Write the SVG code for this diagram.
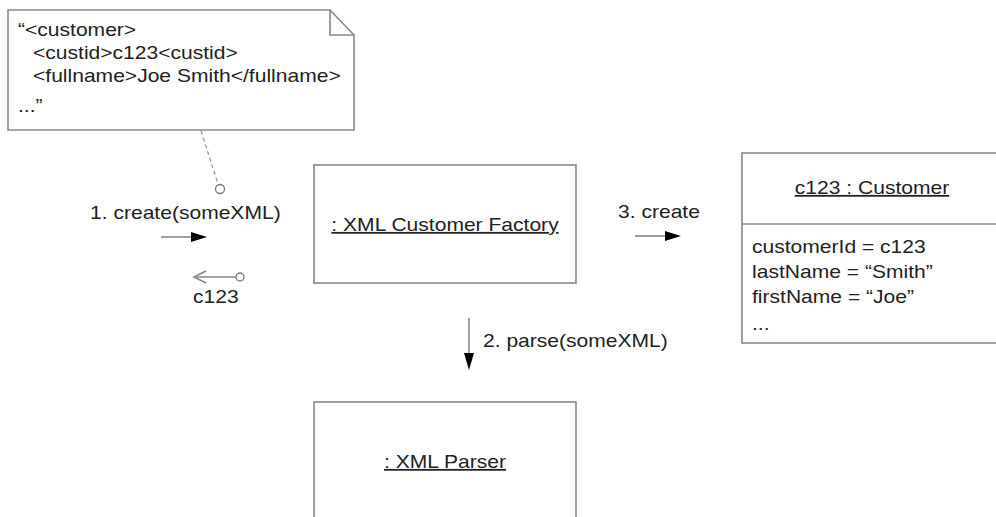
<svg xmlns="http://www.w3.org/2000/svg" width="996" height="517" viewBox="0 0 996 517">
<defs>
<style>
.box{fill:#fff;stroke:#8a8a8a;stroke-width:1.6}
.t{font-family:"Liberation Sans",Arial,sans-serif;font-size:18px;fill:#222}
.u{text-decoration:underline}
.ln{stroke:#888;stroke-width:1.6;fill:none}
.dash{stroke:#999;stroke-width:1.3;stroke-dasharray:4 3;fill:none}
.head{fill:#000;stroke:none}
.circ{fill:#fff;stroke:#777;stroke-width:1.3}
</style>
</defs>
<rect width="996" height="517" fill="#fff"/>
<g id="note">
<polygon class="box" points="8,10 330,10 354,35 354,130 8,130"/>
<polyline class="ln" points="330,10 330,35 354,35"/>
<text class="t" transform="translate(18,36) scale(1.17,1)">“&lt;customer&gt;</text>
<text class="t" transform="translate(33,59) scale(1.17,1)">&lt;custid&gt;c123&lt;custid&gt;</text>
<text class="t" transform="translate(33,82) scale(1.17,1)">&lt;fullname&gt;Joe Smith&lt;/fullname&gt;</text>
<text class="t" transform="translate(18,112) scale(1.17,1)">...”</text>
</g>
<g id="factory">
<rect class="box" x="314" y="165" width="262" height="118"/>
<text class="t u" text-anchor="middle" transform="translate(445,231) scale(1.17,1)">: XML Customer Factory</text>
</g>
<g id="customer">
<rect class="box" x="742" y="153" width="270" height="190"/>
<line class="ln" x1="742" y1="224" x2="1000" y2="224"/>
<text class="t u" text-anchor="middle" transform="translate(872,194) scale(1.17,1)">c123 : Customer</text>
<text class="t" transform="translate(752,253) scale(1.17,1)">customerId = c123</text>
<text class="t" transform="translate(752,278) scale(1.17,1)">lastName = “Smith”</text>
<text class="t" transform="translate(752,303) scale(1.17,1)">firstName = “Joe”</text>
<text class="t" transform="translate(752,330) scale(1.17,1)">...</text>
</g>
<g id="parser">
<rect class="box" x="314" y="402" width="262" height="130"/>
<text class="t u" text-anchor="middle" transform="translate(445,468) scale(1.17,1)">: XML Parser</text>
</g>
<g id="connectors">
<line class="dash" x1="201" y1="131" x2="218" y2="184"/>
<circle class="circ" cx="220" cy="189" r="4.5"/>
<text class="t" transform="translate(90,219) scale(1.17,1)">1. create(someXML)</text>
<line class="ln" x1="161" y1="237" x2="193" y2="237"/>
<polygon class="head" points="191,232 207,237 191,242"/>
<line class="ln" x1="194" y1="277" x2="236" y2="277"/>
<polyline class="ln" points="206,271 194,277 206,283"/>
<circle class="circ" cx="240" cy="277" r="4"/>
<text class="t" transform="translate(193,303) scale(1.17,1)">c123</text>
<text class="t" transform="translate(618,218) scale(1.17,1)">3. create</text>
<line class="ln" x1="635" y1="236" x2="667" y2="236"/>
<polygon class="head" points="665,231 681,236 665,241"/>
<line class="ln" x1="469" y1="318" x2="469" y2="355"/>
<polygon class="head" points="464,353 469,370 474,353"/>
<text class="t" transform="translate(483,347) scale(1.17,1)">2. parse(someXML)</text>
</g>
</svg>
